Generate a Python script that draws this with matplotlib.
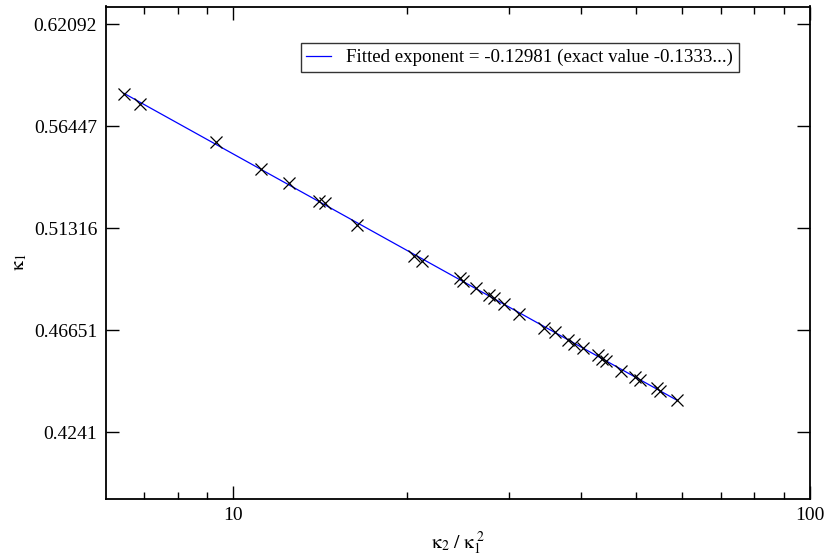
import numpy as np
import matplotlib
matplotlib.use("Agg")
import matplotlib.pyplot as plt
from matplotlib.ticker import FixedLocator, NullLocator, NullFormatter, FixedFormatter

plt.rcParams['font.family'] = ['Liberation Serif', 'DejaVu Serif']
plt.rcParams['mathtext.fontset'] = 'stix'

# data
kappa_ratio = [6.455, 6.900, 9.318, 11.17, 12.48, 14.08, 14.44, 16.38, 20.59, 21.26,
               24.67, 25.01, 26.37, 27.78, 28.34, 29.41, 31.31, 34.63, 36.14, 38.11,
               38.89, 40.47, 42.97, 43.55, 44.30, 47.03, 49.74, 50.75, 54.24, 54.95,
               58.75]
kappa1 = [0.5819, 0.5760, 0.5561, 0.5421, 0.5354, 0.5262, 0.5251, 0.5144, 0.4999, 0.4974,
          0.4896, 0.4885, 0.4852, 0.4822, 0.4808, 0.4779, 0.4736, 0.4673, 0.4656, 0.4622,
          0.4607, 0.4588, 0.4556, 0.4542, 0.4532, 0.4490, 0.4467, 0.4454, 0.4418, 0.4408,
          0.4370]

y_ticks = [0.4241, 0.46651, 0.51316, 0.56447, 0.62092]
y_tick_labels = ['0.4241', '0.46651', '0.51316', '0.56447', '0.62092']
x_ticks = [10, 100]
x_tick_labels = ['10', '100']
x_minor = [7, 8, 9, 20, 30, 40, 50, 60, 70, 80, 90]
legend_text = "Fitted exponent = -0.12981 (exact value -0.1333...)"

x = np.array(kappa_ratio)
y = np.array(kappa1)

# power law fit in log-log
slope, icpt = np.polyfit(np.log10(x), np.log10(y), 1)
xfit = np.array([x.min(), x.max()])
yfit = 10 ** (icpt + slope * np.log10(xfit))

fig = plt.figure(figsize=(8.27, 5.56), dpi=100)
ax = fig.add_axes([105.5 / 827, 1 - 499 / 556, 704.5 / 827, 492.5 / 556])

ax.plot(xfit, yfit, color='blue', lw=0.9, label=legend_text)
ax.plot(x, y, ls='none', marker='x', ms=8, mew=0.9, color='black')

ax.set_xscale('log')
ax.set_yscale('log')
ax.set_xlim(6.0, 100)
ax.set_ylim(0.3984, 0.6312)

ax.xaxis.set_major_locator(FixedLocator(x_ticks))
ax.xaxis.set_major_formatter(FixedFormatter(x_tick_labels))
ax.xaxis.set_minor_locator(FixedLocator(x_minor))
ax.xaxis.set_minor_formatter(NullFormatter())
ax.yaxis.set_major_locator(FixedLocator(y_ticks))
ax.yaxis.set_major_formatter(FixedFormatter(y_tick_labels))
ax.yaxis.set_minor_locator(NullLocator())

ax.tick_params(which='both', direction='in', top=True, right=True, labelsize=14)
ax.tick_params(which='major', length=9.5, width=1.0, pad=6)
ax.tick_params(which='minor', length=5, width=1.0)
for s in ax.spines.values():
    s.set_linewidth(1.3)

ax.set_xlabel(r'$\mathrm{\kappa_2\ /\ \kappa_1^{\ 2}}$', fontsize=14)
ax.set_ylabel(r'$\mathrm{\kappa_1}$', fontsize=14)
ax.xaxis.set_label_coords(0.5, -0.062)
ax.yaxis.set_label_coords(-0.108, 0.48)

leg = ax.legend(loc='upper left', bbox_to_anchor=(0.277, 0.925), borderaxespad=0,
                fontsize=13.6, frameon=True, fancybox=False, handlelength=1.3,
                handletextpad=0.8, borderpad=0.3)
leg.get_frame().set_edgecolor('black')
leg.get_frame().set_linewidth(1.0)

fig.savefig('out.png', dpi=100)
